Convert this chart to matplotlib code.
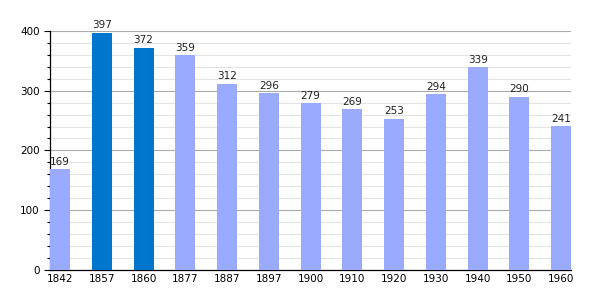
import matplotlib
matplotlib.use("Agg")
import matplotlib.pyplot as plt
from matplotlib.ticker import MultipleLocator

years = ["1842", "1857", "1860", "1877", "1887", "1897", "1900",
         "1910", "1920", "1930", "1940", "1950", "1960"]
population = [169, 397, 372, 359, 312, 296, 279, 269, 253, 294, 339, 290, 241]
highlight = ["1857", "1860"]

light = "#99aaff"
dark = "#0077cc"
colors = [dark if y in highlight else light for y in years]

fig = plt.figure(figsize=(6, 3), dpi=100)
ax = fig.add_axes([0.0833, 0.1, 0.8687, 0.797])

x = list(range(len(years)))
bars = ax.bar(x, population, width=0.48, color=colors, zorder=3)
for xi, v in zip(x, population):
    ax.text(xi, v + 4, str(v), ha="center", va="bottom", fontsize=7.5, color="#222222")

ax.set_xlim(-0.24, len(years) - 1 + 0.24)
ax.set_ylim(0, 400)
ax.set_xticks(x)
ax.set_xticklabels(years, fontsize=7.5)
ax.yaxis.set_major_locator(MultipleLocator(100))
ax.yaxis.set_minor_locator(MultipleLocator(20))
ax.tick_params(axis="y", labelsize=7.5, length=4, width=0.8)
ax.tick_params(axis="y", which="minor", length=2.5, width=0.8)
ax.tick_params(axis="x", length=0, pad=3)
ax.grid(axis="y", which="major", color="#aaaaaa", linewidth=0.8, zorder=0)
ax.grid(axis="y", which="minor", color="#e4e4e4", linewidth=0.8, zorder=0)
for s in ["top", "right"]:
    ax.spines[s].set_visible(False)
ax.spines["left"].set_linewidth(0.9)
ax.spines["bottom"].set_linewidth(0.9)

fig.savefig("out.png", dpi=100)
